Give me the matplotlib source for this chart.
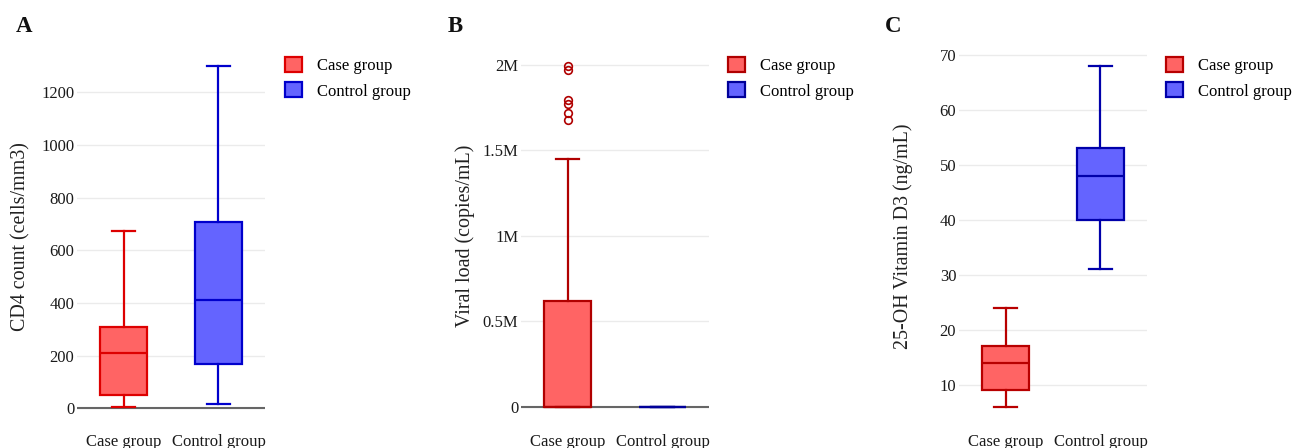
import matplotlib
matplotlib.use("Agg")
import matplotlib.pyplot as plt
from matplotlib.patches import Patch

plt.rcParams['font.family'] = ['Liberation Serif', 'DejaVu Serif']

# ---------------- data (whislo, q1, median, q3, whishi) ----------------
groups = ["Case group", "Control group"]

cd4_case = [5, 52, 210, 309, 673]
cd4_control = [17, 170, 410, 706, 1302]

vl_case = [0, 0, 0, 620000, 1452000]
vl_case_fliers = [1996000, 1971000, 1795000, 1770000, 1717000, 1678000]
vl_control = [0, 0, 0, 0, 0]

vd_case = [6, 9, 14, 17, 24]
vd_control = [31, 40, 48, 53, 68]

cd4_ticks = [0, 200, 400, 600, 800, 1000, 1200]
vl_ticks = [0, 500000, 1000000, 1500000, 2000000]
vl_ticklabels = ["0", "0.5M", "1M", "1.5M", "2M"]
vd_ticks = [10, 20, 30, 40, 50, 60, 70]

ylabels = ["CD4 count (cells/mm3)", "Viral load (copies/mL)", "25-OH Vitamin D3 (ng/mL)"]
panel_letters = ["A", "B", "C"]

# ---------------- style ----------------
W, H = 1293, 448
fig = plt.figure(figsize=(W / 100, H / 100), dpi=100)

case_fill = '#ff6464'
ctrl_fill = '#6464ff'
edge_sets = [('#dd0000', '#0000cc'), ('#b00000', '#000099'), ('#b80000', '#0000aa')]

ax_lefts = [77, 521, 959]
ax_w = 188
ax_top, ax_bot = 48.5, 424
leg_lefts = [285, 728, 1166]
letter_x = [16, 448, 885]


def stats_of(vals, fliers=None):
    lo, q1, med, q3, hi = vals
    return dict(whislo=lo, q1=q1, med=med, q3=q3, whishi=hi, fliers=fliers or [])


panels = [
    (cd4_case, [], cd4_control, cd4_ticks, [str(t) for t in cd4_ticks], True),
    (vl_case, vl_case_fliers, vl_control, vl_ticks, vl_ticklabels, True),
    (vd_case, [], vd_control, vd_ticks, [str(t) for t in vd_ticks], False),
]

for i, (case, case_fl, ctrl, ticks, tlabels, zeroline) in enumerate(panels):
    ax = fig.add_axes([ax_lefts[i] / W, 1 - ax_bot / H, ax_w / W, (ax_bot - ax_top) / H])
    ec_case, ec_ctrl = edge_sets[i]
    allv = case + ctrl + case_fl
    lo, hi = min(allv), max(allv)
    pad = 0.05 * (hi - lo)
    ax.set_ylim(lo - pad, hi + pad)
    ax.set_xlim(-0.49, 1.49)

    for pos, vals, fl, fc, ec in [(0, case, case_fl, case_fill, ec_case),
                                  (1, ctrl, [], ctrl_fill, ec_ctrl)]:
        ax.bxp([stats_of(vals, fl)], positions=[pos], widths=0.5, capwidths=0.25,
               patch_artist=True, showfliers=True,
               boxprops=dict(facecolor=fc, edgecolor=ec, linewidth=1.6),
               medianprops=dict(color=ec, linewidth=1.6),
               whiskerprops=dict(color=ec, linewidth=1.6),
               capprops=dict(color=ec, linewidth=1.6),
               flierprops=dict(marker='o', markerfacecolor='none', markeredgecolor=ec,
                               markersize=5.5, markeredgewidth=1.2),
               zorder=3)

    ax.set_yticks(ticks)
    ax.set_yticklabels(tlabels)
    ax.set_xticks([0, 1])
    ax.set_xticklabels(groups)
    ax.grid(axis='y', color='#ebebeb', linewidth=1.0, zorder=0)
    ax.set_axisbelow(True)
    if zeroline:
        ax.axhline(0, color='#666666', linewidth=1.5, zorder=2)
    for s in ax.spines.values():
        s.set_visible(False)
    ax.tick_params(axis='both', length=0, labelsize=12, colors='#1a1a1a')
    ax.tick_params(axis='y', pad=2)
    ax.tick_params(axis='x', pad=7)
    ax.set_ylabel(ylabels[i], fontsize=14.4, color='#222222')
    ax.yaxis.set_label_coords(-0.245, 0.5)

    handles = [Patch(facecolor=case_fill, edgecolor=ec_case, linewidth=1.6, label=groups[0]),
               Patch(facecolor=ctrl_fill, edgecolor=ec_ctrl, linewidth=1.6, label=groups[1])]
    fig.legend(handles=handles, loc='upper left',
               bbox_to_anchor=(leg_lefts[i] / W, 1 - 57 / H),
               frameon=False, fontsize=12, borderpad=0, borderaxespad=0,
               handlelength=1.0, handleheight=1.0, handletextpad=0.9,
               labelspacing=0.5)

    fig.text(letter_x[i] / W, 1 - 27 / H, panel_letters[i], fontsize=16.5,
             fontweight='bold', va='center', ha='left', color='#111111')

fig.savefig("out.png", dpi=100)
